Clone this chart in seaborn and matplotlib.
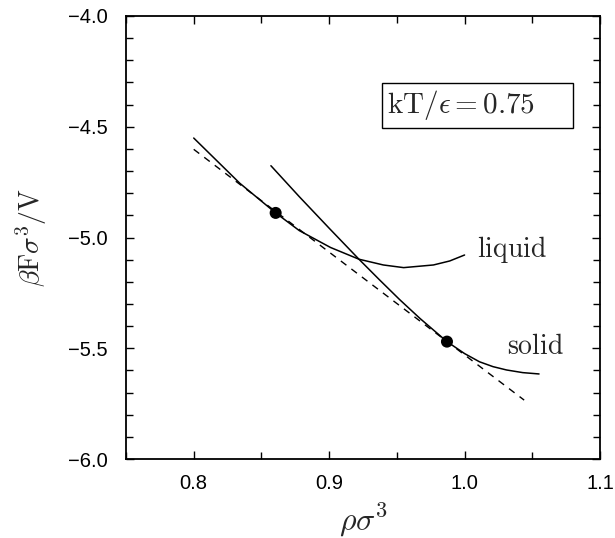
import matplotlib
matplotlib.use("Agg")
import matplotlib.pyplot as plt
from matplotlib.ticker import MultipleLocator, FuncFormatter
from matplotlib.patches import Rectangle
import seaborn as sns
import pandas as pd

# Free energy per volume vs density at kT/eps = 0.75
liquid_rho = [0.800, 0.834, 0.8605, 0.878, 0.901, 0.922, 0.940, 0.955, 0.977, 0.989, 1.000]
liquid_f = [-4.551, -4.755, -4.889, -4.969, -5.045, -5.098, -5.124, -5.136, -5.124, -5.106, -5.079]

solid_rho = [0.857, 0.878, 0.900, 0.922, 0.937, 0.952, 0.967, 0.987, 1.000, 1.011, 1.021, 1.031, 1.043, 1.055]
solid_f = [-4.676, -4.816, -4.958, -5.098, -5.190, -5.280, -5.365, -5.470, -5.524, -5.561, -5.583, -5.598, -5.610, -5.616]

# Common tangent (double-tangent construction)
tangent_rho = [0.800, 1.044]
tangent_f = [-4.602, -5.734]

# Coexisting densities
coex_rho = [0.8605, 0.987]
coex_f = [-4.889, -5.470]

sns.set_theme(style="ticks")
plt.rcParams["mathtext.fontset"] = "cm"
plt.rcParams["font.family"] = ["Liberation Sans", "DejaVu Sans"]

fig = plt.figure(figsize=(6.15, 5.38), dpi=100)
ax = fig.add_axes([0.2049, 0.1468, 0.7707, 0.8235])

liq = pd.DataFrame({"rho": liquid_rho, "f": liquid_f})
sol = pd.DataFrame({"rho": solid_rho, "f": solid_f})
tan = pd.DataFrame({"rho": tangent_rho, "f": tangent_f})
pts = pd.DataFrame({"rho": coex_rho, "f": coex_f})

sns.lineplot(data=liq, x="rho", y="f", sort=False, estimator=None, color="black", lw=1.1, ax=ax)
sns.lineplot(data=sol, x="rho", y="f", sort=False, estimator=None, color="black", lw=1.1, ax=ax)
sns.lineplot(data=tan, x="rho", y="f", sort=False, estimator=None, color="black", lw=1.0,
             ax=ax, dashes=False, linestyle=(0, (5.0, 4.5)))
sns.scatterplot(data=pts, x="rho", y="f", color="black", s=75, edgecolor="none", ax=ax, zorder=5)

ax.set_xlim(0.75, 1.1)
ax.set_ylim(-6.0, -4.0)
ax.xaxis.set_major_locator(MultipleLocator(0.1))
ax.xaxis.set_minor_locator(MultipleLocator(0.05))
ax.yaxis.set_major_locator(MultipleLocator(0.5))
ax.yaxis.set_minor_locator(MultipleLocator(0.1))
fmt = FuncFormatter(lambda v, p: f"{v:.1f}".replace("-", "\u2212"))
ax.xaxis.set_major_formatter(fmt)
ax.yaxis.set_major_formatter(fmt)
ax.tick_params(which="both", direction="in", top=True, right=True, width=1.0, color="black")
ax.tick_params(which="major", length=5.5, labelsize=14.5, labelcolor="black")
ax.tick_params(axis="y", which="major", pad=13)
ax.tick_params(axis="x", which="major", pad=11)
ax.tick_params(which="minor", length=5.0)
for sp in ax.spines.values():
    sp.set_linewidth(1.3)
    sp.set_color("black")

ax.set_xlabel(r"$\rho\sigma^3$", fontsize=23, labelpad=6)
ax.set_ylabel(r"$\beta\mathrm{F}\sigma^3/\mathrm{V}$", fontsize=20, labelpad=14)

ax.text(1.009, -5.056, r"$\mathrm{liquid}$", fontsize=20, va="center", ha="left")
ax.text(1.031, -5.493, r"$\mathrm{solid}$", fontsize=20, va="center", ha="left")

# Temperature label in a framed box
ax.add_patch(Rectangle((0.9387, -4.504), 0.141, 0.200, fill=False, ec="black", lw=1.0, zorder=4))
ax.text(0.9424, -4.404, r"$\mathrm{kT}/\epsilon=0.75$", fontsize=21, va="center", ha="left")

fig.savefig("out.png", dpi=100)
